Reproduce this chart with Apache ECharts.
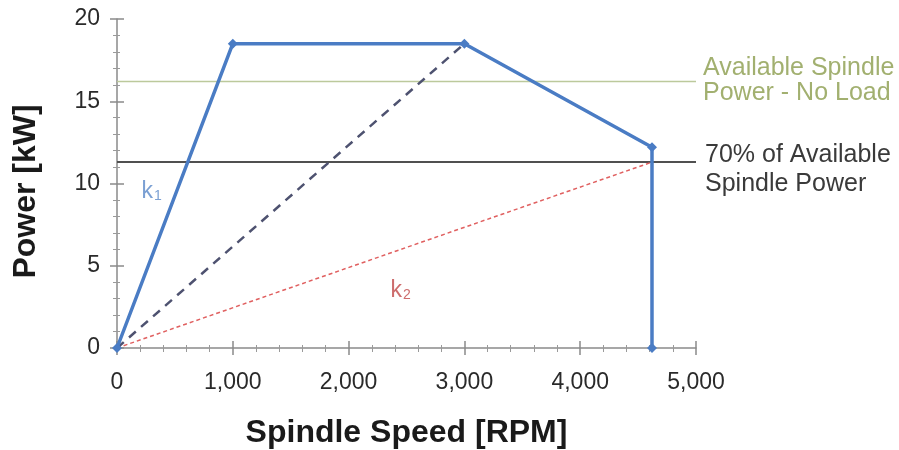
<!DOCTYPE html>
<html><head><meta charset="utf-8">
<script src="https://cdn.jsdelivr.net/npm/echarts@6/dist/echarts.min.js"></script>
<style>html,body{margin:0;padding:0;background:#fff}#c{width:899px;height:450px}</style>
</head><body><div id="c"></div>
<script>
const xTicks = [0, 1000, 2000, 3000, 4000, 5000];
const yTicks = [0, 5, 10, 15, 20];
const powerCurve = [[0, 0], [1000, 18.5], [3000, 18.5], [4620, 12.2], [4620, 0]];
const k1Line = [[0, 0], [3000, 18.5]];
const k2Line = [[0, 0], [4620, 11.3]];
const availablePower = [[0, 16.2], [5000, 16.2]];
const seventyPercent = [[0, 11.3], [5000, 11.3]];
const annotations = [
  { name: 'k1', value: [300, 9.5], color: '#5a88c8' },
  { name: 'k2', value: [2450, 3.5], color: '#c04848' }
];

const chart = echarts.init(document.getElementById('c'), null, { renderer: 'canvas' });
const FONT = 'Liberation Sans, Arial, sans-serif';
chart.setOption({
  animation: false,
  backgroundColor: '#fff',
  grid: { left: 117, right: 203, top: 19, bottom: 102, containLabel: false, outerBoundsMode: 'none' },
  xAxis: [{
    type: 'value', min: xTicks[0], max: xTicks[xTicks.length - 1], interval: 1000,
    name: 'Spindle Speed [RPM]', nameLocation: 'middle', nameGap: 69,
    nameTextStyle: { fontFamily: FONT, fontWeight: 'bold', fontSize: 32, color: '#1a1a1a' },
    axisLine: { lineStyle: { color: '#8a8a8a', width: 1.5 } },
    axisTick: { length: 7, lineStyle: { color: '#8a8a8a', width: 1.5 } },
    minorTick: { show: true, splitNumber: 5, length: 4, lineStyle: { color: '#9a9a9a' } },
    axisLabel: { fontFamily: FONT, fontSize: 23, color: '#2a2a2a', margin: 23,
      formatter: v => v.toLocaleString('en-US') },
    splitLine: { show: false }
  }, {
    type: 'value', min: xTicks[0], max: xTicks[xTicks.length - 1], interval: 1000, position: 'bottom',
    axisLine: { show: false }, axisLabel: { show: false }, splitLine: { show: false },
    axisTick: { inside: true, length: 7, lineStyle: { color: '#8a8a8a', width: 1.5 } },
    minorTick: { show: true, splitNumber: 5, length: 3, lineStyle: { color: '#9a9a9a' } }
  }],
  yAxis: [{
    type: 'value', min: yTicks[0], max: yTicks[yTicks.length - 1], interval: 5,
    name: 'Power [kW]', nameLocation: 'middle', nameGap: 75, nameRotate: 90,
    nameTextStyle: { fontFamily: FONT, fontWeight: 'bold', fontSize: 32, color: '#1a1a1a', padding: [0, 16, 0, 0] },
    axisLine: { show: true, lineStyle: { color: '#8a8a8a', width: 1.5 } },
    axisTick: { show: true, length: 7, lineStyle: { color: '#8a8a8a', width: 1.5 } },
    minorTick: { show: true, splitNumber: 5, length: 4, lineStyle: { color: '#9a9a9a' } },
    axisLabel: { fontFamily: FONT, fontSize: 23, color: '#2a2a2a', margin: 17 },
    splitLine: { show: false }
  }, {
    type: 'value', min: yTicks[0], max: yTicks[yTicks.length - 1], interval: 5, position: 'left',
    axisLine: { show: false }, axisLabel: { show: false }, splitLine: { show: false },
    axisTick: { show: true, inside: true, length: 7, lineStyle: { color: '#8a8a8a', width: 1.5 } },
    minorTick: { show: true, splitNumber: 5, length: 3, lineStyle: { color: '#9a9a9a' } }
  }],
  series: [
    { type: 'line', data: availablePower, symbol: 'none', lineStyle: { color: '#bcc99c', width: 1.5 }, z: 1 },
    { type: 'line', data: seventyPercent, symbol: 'none', lineStyle: { color: '#505050', width: 2 }, z: 1 },
    { type: 'line', data: k2Line, symbol: 'none', lineStyle: { color: '#e06060', width: 1.5, type: [4, 3] }, z: 2 },
    { type: 'line', data: k1Line, symbol: 'none', lineStyle: { color: '#4e5270', width: 2.5, type: [9, 7] }, z: 2 },
    { type: 'line', data: powerCurve, symbol: 'diamond', symbolSize: 10, showAllSymbol: true,
      itemStyle: { color: '#4a7cc4' }, lineStyle: { color: '#4a7cc4', width: 3.5 }, z: 3 },
    { type: 'scatter', symbolSize: 0, z: 4,
      data: annotations.map(a => ({ value: a.value, name: a.name,
        label: { show: true, position: 'inside', color: a.color,
          formatter: 'k{s|' + a.name.slice(1) + '}',
          fontFamily: FONT, fontSize: 23,
          rich: { s: { fontSize: 14, color: a.color, verticalAlign: 'bottom', padding: [9, 0, 0, 1] } } } })) }
  ],
  graphic: [
    { type: 'text', left: 703, top: 56, style: { text: 'Available Spindle\nPower - No Load', fill: '#a2b070',
      font: '25px ' + FONT, lineHeight: 25 } },
    { type: 'text', left: 705, top: 141, style: { text: '70% of Available\nSpindle Power', fill: '#3a3a3a',
      font: '25px ' + FONT, lineHeight: 29 } }
  ]
});
</script></body></html>
